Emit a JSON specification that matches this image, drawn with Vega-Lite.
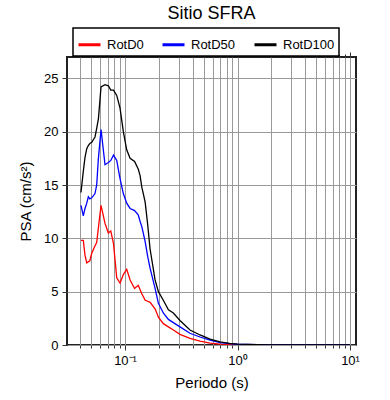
{
  "$schema": "https://vega.github.io/schema/vega-lite/v6.json",
  "autosize": "none",
  "padding": {"left": 67, "top": 57, "right": 34, "bottom": 55},
  "width": 289,
  "height": 288,
  "background": "white",
  "title": {"text": "Sitio SFRA", "fontSize": 18, "font": "Liberation Sans", "fontWeight": "normal", "color": "black", "anchor": "middle", "offset": 4},
  "config": {
    "view": {"stroke": "#222", "strokeWidth": 2},
    "font": "Liberation Sans",
    "legend": {"strokeWidth": 1.5}
  },
  "data": {"values": [
    {"T": 0.0406, "RotD0": 9.8, "RotD50": 13.1, "RotD100": 14.3},
    {"T": 0.0426, "RotD0": 9.8, "RotD50": 12.1, "RotD100": 16.3},
    {"T": 0.0441, "RotD0": 8.4, "RotD50": 12.8, "RotD100": 17.6},
    {"T": 0.0457, "RotD0": 7.7, "RotD50": 13.3, "RotD100": 18.4},
    {"T": 0.0472, "RotD0": 7.8, "RotD50": 13.9, "RotD100": 18.7},
    {"T": 0.0487, "RotD0": 7.9, "RotD50": 13.7, "RotD100": 18.9},
    {"T": 0.0506, "RotD0": 8.6, "RotD50": 13.8, "RotD100": 19.0},
    {"T": 0.0541, "RotD0": 9.3, "RotD50": 14.2, "RotD100": 19.5},
    {"T": 0.056, "RotD0": 9.6, "RotD50": 15.0, "RotD100": 20.3},
    {"T": 0.058, "RotD0": 11.0, "RotD50": 17.5, "RotD100": 21.2},
    {"T": 0.0612, "RotD0": 13.1, "RotD50": 20.2, "RotD100": 24.2},
    {"T": 0.0664, "RotD0": 11.4, "RotD50": 16.9, "RotD100": 24.4},
    {"T": 0.0711, "RotD0": 10.5, "RotD50": 17.1, "RotD100": 24.3},
    {"T": 0.0747, "RotD0": 10.7, "RotD50": 17.3, "RotD100": 23.9},
    {"T": 0.079, "RotD0": 9.5, "RotD50": 17.8, "RotD100": 23.9},
    {"T": 0.0844, "RotD0": 6.3, "RotD50": 17.3, "RotD100": 23.4},
    {"T": 0.0903, "RotD0": 5.8, "RotD50": 15.6, "RotD100": 22.2},
    {"T": 0.0966, "RotD0": 6.6, "RotD50": 14.2, "RotD100": 20.0},
    {"T": 0.1035, "RotD0": 7.1, "RotD50": 13.3, "RotD100": 18.3},
    {"T": 0.111, "RotD0": 6.1, "RotD50": 12.8, "RotD100": 17.5},
    {"T": 0.1216, "RotD0": 5.3, "RotD50": 12.6, "RotD100": 17.2},
    {"T": 0.131, "RotD0": 5.6, "RotD50": 12.2, "RotD100": 16.5},
    {"T": 0.136, "RotD0": 5.2, "RotD50": 11.6, "RotD100": 15.9},
    {"T": 0.141, "RotD0": 4.8, "RotD50": 11.1, "RotD100": 14.8},
    {"T": 0.146, "RotD0": 4.5, "RotD50": 10.4, "RotD100": 14.1},
    {"T": 0.151, "RotD0": 4.2, "RotD50": 9.7, "RotD100": 13.4},
    {"T": 0.159, "RotD0": 4.1, "RotD50": 8.3, "RotD100": 11.3},
    {"T": 0.167, "RotD0": 4.0, "RotD50": 7.2, "RotD100": 9.0},
    {"T": 0.185, "RotD0": 3.4, "RotD50": 5.3, "RotD100": 6.1},
    {"T": 0.198, "RotD0": 2.6, "RotD50": 3.9, "RotD100": 5.0},
    {"T": 0.219, "RotD0": 2.0, "RotD50": 3.0, "RotD100": 4.2},
    {"T": 0.243, "RotD0": 1.7, "RotD50": 2.4, "RotD100": 3.3},
    {"T": 0.269, "RotD0": 1.4, "RotD50": 2.1, "RotD100": 3.0},
    {"T": 0.308, "RotD0": 1.0, "RotD50": 1.7, "RotD100": 2.3},
    {"T": 0.378, "RotD0": 0.63, "RotD50": 1.1, "RotD100": 1.4},
    {"T": 0.464, "RotD0": 0.37, "RotD50": 0.75, "RotD100": 0.94},
    {"T": 0.57, "RotD0": 0.17, "RotD50": 0.45, "RotD100": 0.55},
    {"T": 0.7, "RotD0": 0.09, "RotD50": 0.23, "RotD100": 0.3},
    {"T": 0.85, "RotD0": 0.05, "RotD50": 0.12, "RotD100": 0.16},
    {"T": 1.0, "RotD0": 0.03, "RotD50": 0.07, "RotD100": 0.09},
    {"T": 1.5, "RotD0": 0.01, "RotD50": 0.03, "RotD100": 0.04},
    {"T": 2.0, "RotD0": 0.005, "RotD50": 0.015, "RotD100": 0.02},
    {"T": 3.0, "RotD0": 0.002, "RotD50": 0.006, "RotD100": 0.008},
    {"T": 5.0, "RotD0": 0.001, "RotD50": 0.002, "RotD100": 0.003},
    {"T": 10.0, "RotD0": 0, "RotD50": 0.001, "RotD100": 0.001}
  ]},
  "resolve": {"axis": {"x": "independent"}},
  "layer": [
    {
      "transform": [{"fold": ["RotD0", "RotD50", "RotD100"], "as": ["comp", "psa"]}],
      "mark": {"type": "line", "strokeWidth": 1.3, "clip": true},
      "encoding": {
        "x": {
          "field": "T", "type": "quantitative",
          "scale": {"type": "log", "domain": [0.0305, 11.3], "nice": false},
          "axis": {
            "orient": "bottom",
            "title": "Periodo (s)",
            "titleFontSize": 15, "titleFontWeight": "normal", "titleColor": "black", "titleFont": "Liberation Sans", "titlePadding": 8,
            "values": [0.04, 0.05, 0.06, 0.07, 0.08, 0.09, 0.1, 0.2, 0.3, 0.4, 0.5, 0.6, 0.7, 0.8, 0.9, 1, 2, 3, 4, 5, 6, 7, 8, 9, 10],
            "labelExpr": "datum.value == 0.1 ? '10⁻¹' : datum.value == 1 ? '10⁰' : datum.value == 10 ? '10¹' : ''",
            "labelFontSize": 13, "labelColor": "black", "labelFont": "Liberation Sans", "labelPadding": 4,
            "labelOverlap": false, "labelFlush": false,
            "domain": false,
            "grid": true, "gridColor": "#999999", "gridWidth": 1, "gridOpacity": 1,
            "ticks": true, "tickColor": "#333",
            "tickSize": {"condition": {"test": "datum.value == 0.1 || datum.value == 1 || datum.value == 10", "value": 5}, "value": 3}
          }
        },
        "y": {
          "field": "psa", "type": "quantitative",
          "scale": {"domain": [0, 27], "nice": false},
          "axis": {
            "title": "PSA (cm/s²)",
            "titleFontSize": 15, "titleFontWeight": "normal", "titleColor": "black", "titleFont": "Liberation Sans", "titlePadding": 10,
            "values": [0, 5, 10, 15, 20, 25],
            "labelFontSize": 13, "labelColor": "black", "labelFont": "Liberation Sans", "labelPadding": 4,
            "domain": false,
            "grid": true, "gridColor": "#999999", "gridWidth": 1, "gridOpacity": 1,
            "tickSize": 5, "tickColor": "#333"
          }
        },
        "color": {
          "field": "comp", "type": "nominal",
          "scale": {"domain": ["RotD0", "RotD50", "RotD100"], "range": ["#ff0000", "#0000ff", "#000000"]},
          "legend": {
            "title": null,
            "orient": "none", "legendX": 6, "legendY": -29,
            "direction": "horizontal", "columns": 3, "gridAlign": "each",
            "symbolType": "stroke", "symbolSize": 484, "symbolStrokeWidth": 3,
            "labelFontSize": 13, "labelColor": "black", "labelFont": "Liberation Sans", "labelOffset": 5,
            "columnPadding": 12,
            "strokeColor": "black", "fillColor": "white",
            "padding": 4
          }
        }
      }
    },
    {
      "mark": {"type": "rule", "opacity": 0},
      "encoding": {
        "x": {
          "field": "T", "type": "quantitative",
          "axis": {
            "orient": "top", "title": null, "labels": false, "domain": false, "grid": false,
            "values": [0.04, 0.05, 0.06, 0.07, 0.08, 0.09, 0.1, 0.2, 0.3, 0.4, 0.5, 0.6, 0.7, 0.8, 0.9, 1, 2, 3, 4, 5, 6, 7, 8, 9, 10],
            "tickColor": "#333",
            "tickSize": {"condition": {"test": "datum.value == 0.1 || datum.value == 1 || datum.value == 10", "value": 5}, "value": 3}
          }
        }
      }
    }
  ]
}
